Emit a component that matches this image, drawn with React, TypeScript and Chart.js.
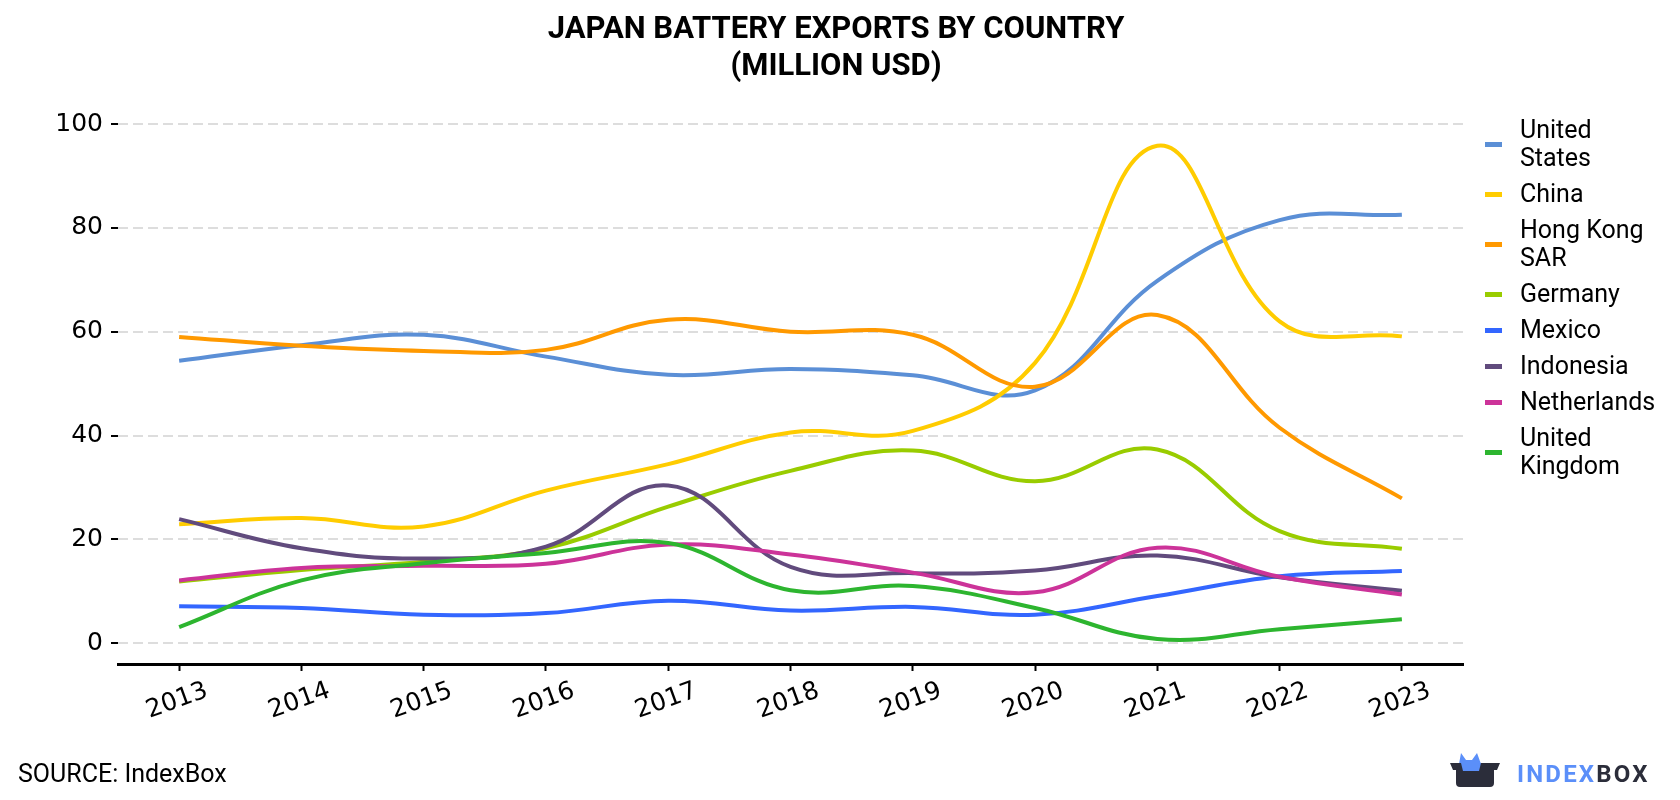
import React, { useEffect, useRef } from "react";
import { Chart, registerables } from "chart.js";

Chart.register(...registerables);

const years = ["2013", "2014", "2015", "2016", "2017", "2018", "2019", "2020", "2021", "2022", "2023"];
const yTicks = [0, 20, 40, 60, 80, 100];

const unitedStates = [54.4, 57.4, 59.4, 55.2, 51.7, 52.8, 51.6, 48.7, 69.8, 81.5, 82.5];
const china = [22.9, 24.1, 22.5, 29.4, 34.5, 40.6, 40.9, 54.0, 95.8, 62.0, 59.1];
const hongKong = [59.0, 57.3, 56.3, 56.5, 62.3, 60.0, 59.4, 49.4, 63.2, 41.5, 27.9];
const germany = [11.9, 14.1, 15.7, 18.3, 26.3, 33.2, 37.1, 31.2, 37.3, 21.6, 18.2];
const mexico = [7.1, 6.8, 5.5, 5.8, 8.2, 6.3, 7.0, 5.5, 9.1, 12.9, 13.9];
const indonesia = [23.9, 18.3, 16.3, 18.6, 30.4, 14.7, 13.5, 14.0, 16.9, 12.7, 10.1];
const netherlands = [12.1, 14.5, 14.9, 15.3, 19.0, 17.1, 13.6, 9.8, 18.4, 12.8, 9.4];
const unitedKingdom = [3.1, 12.1, 15.4, 17.4, 19.3, 10.2, 11.0, 6.8, 0.8, 2.7, 4.6];

const seriesNames = ["United\nStates", "China", "Hong Kong\nSAR", "Germany", "Mexico", "Indonesia", "Netherlands", "United\nKingdom"];
const seriesValues = [unitedStates, china, hongKong, germany, mexico, indonesia, netherlands, unitedKingdom];
const seriesColors = ["#5B8FD6", "#FFCC00", "#FF9900", "#99CC00", "#3366FF", "#614B7D", "#CC3399", "#2DB52F"];

const xLabelPlugin = {
  id: "xLabelPlugin",
  afterDraw(chart: any) {
    const s = chart.scales.x;
    const ctx = chart.ctx;
    ctx.save();
    ctx.font = '25px "DejaVu Sans"';
    ctx.fillStyle = "#000";
    ctx.textAlign = "center";
    ctx.textBaseline = "middle";
    s.ticks.forEach((t: any, i: number) => {
      const x = s.getPixelForTick(i);
      ctx.save();
      ctx.translate(x - 2, s.top + 37);
      ctx.rotate((-20 * Math.PI) / 180);
      ctx.fillText(String(s.getLabelForValue(t.value)), 0, 0);
      ctx.restore();
    });
    ctx.restore();
  },
};

export default function App() {
  const ref = useRef<HTMLCanvasElement | null>(null);

  useEffect(() => {
    if (!ref.current) return;
    const chart = new Chart(ref.current, {
      type: "line",
      data: {
        labels: years,
        datasets: seriesValues.map((vals, i) => ({
          label: seriesNames[i].replace("\n", " "),
          data: vals,
          borderColor: seriesColors[i],
          backgroundColor: seriesColors[i],
          borderWidth: 4,
          pointRadius: 0,
          tension: 0.4,
          fill: false,
          order: -i,
        })),
      },
      options: {
        responsive: false,
        animation: false,
        devicePixelRatio: 1,
        layout: { padding: { top: 124, right: 217, left: 0, bottom: 0 } },
        plugins: {
          legend: { display: false },
          title: { display: false },
          tooltip: { enabled: false },
        },
        scales: {
          x: {
            type: "category",
            offset: true,
            grid: {
              display: true,
              offset: false,
              drawOnChartArea: false,
              drawTicks: true,
              tickLength: 7,
              tickColor: "#000",
              tickWidth: 2,
            },
            border: { display: true, color: "#000", width: 3 },
            ticks: { display: false },
            afterFit: (s: any) => {
              s.height = 136;
            },
          },
          y: {
            min: -4,
            max: 100,
            afterBuildTicks: (s: any) => {
              s.ticks = yTicks.map((v) => ({ value: v }));
            },
            afterFit: (s: any) => {
              s.width = 118;
            },
            grid: {
              color: "#dddddd",
              lineWidth: 2,
              drawTicks: true,
              tickLength: 7,
              tickColor: "#000",
              tickWidth: 2,
              tickBorderDash: [],
            },
            border: { display: false, dash: [10, 5] },
            ticks: {
              color: "#000",
              padding: 8,
              font: { family: "DejaVu Sans", size: 25 },
            },
          },
        },
      },
      plugins: [xLabelPlugin],
    });
    return () => chart.destroy();
  }, []);

  return (
    <div style={{ position: "absolute", left: 0, top: 0, width: 1680, height: 800, background: "#fff", overflow: "hidden" }}>
      <canvas ref={ref} width={1680} height={800} style={{ position: "absolute", left: 0, top: 0, width: 1680, height: 800 }} />
      <div
        style={{
          position: "absolute",
          left: 0,
          top: 9,
          width: 1672,
          textAlign: "center",
          fontFamily: "Roboto",
          fontWeight: 700,
          fontSize: 31,
          lineHeight: "37px",
          color: "#000",
        }}
      >
        JAPAN BATTERY EXPORTS BY COUNTRY
        <br />
        (MILLION USD)
      </div>
      <div style={{ position: "absolute", left: 1485, top: 112, fontFamily: "Roboto", fontSize: 25, color: "#000" }}>
        {seriesNames.map((n, i) => (
          <div key={i} style={{ display: "flex", alignItems: "center", padding: "4px 0" }}>
            <div style={{ width: 17, height: 5, background: seriesColors[i], marginRight: 18, flex: "none" }} />
            <div style={{ whiteSpace: "pre-line", lineHeight: "28px" }}>{n}</div>
          </div>
        ))}
      </div>
      <div style={{ position: "absolute", left: 18, top: 760, fontFamily: "Roboto", fontSize: 25, lineHeight: "28px", color: "#000" }}>
        SOURCE: IndexBox
      </div>
      <svg style={{ position: "absolute", left: 1448, top: 750 }} width={54} height={40} viewBox="0 0 54 40">
        <path d="M13 3 L18 10 L24 10 L29 3 L33 14 L11 14 Z" fill="#5B8FF9" />
        <path d="M2 13 L52 13 L49 20 L46 20 L46 33 Q46 37 42 37 L12 37 Q8 37 8 33 L8 20 L5 20 Z" fill="#2B2D3A" />
        <path d="M13 13 L33 13 L31 21 L15 21 Z" fill="#5B8FF9" />
      </svg>
      <div
        style={{
          position: "absolute",
          left: 1517,
          top: 760,
          fontFamily: "Roboto",
          fontWeight: 700,
          fontSize: 24,
          letterSpacing: 2.2,
          lineHeight: "28px",
        }}
      >
        <span style={{ color: "#5B8FF9" }}>INDEX</span>
        <span style={{ color: "#2B2D3A" }}>BOX</span>
      </div>
    </div>
  );
}
